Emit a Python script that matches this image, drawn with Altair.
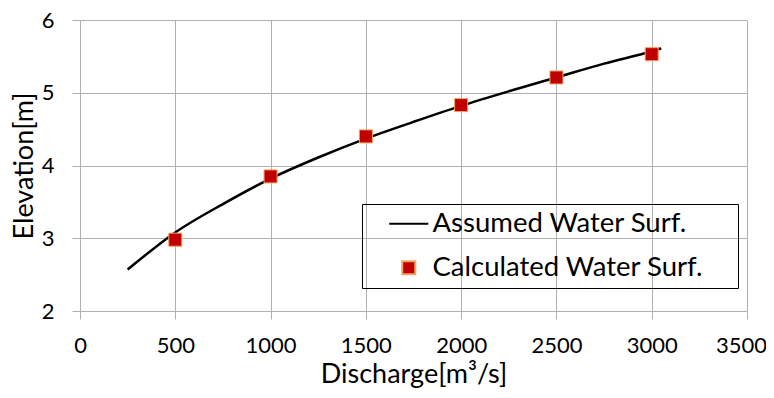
import altair as alt
import pandas as pd

# Assumed water surface (curve)
curve_q = [250, 500, 750, 1000, 1250, 1500, 1750, 2000, 2250, 2500, 2750, 3000, 3050]
curve_h = [2.57, 3.08, 3.47, 3.82, 4.11, 4.37, 4.60, 4.82, 5.02, 5.21, 5.40, 5.57, 5.61]

# Calculated water surface (points)
calc_q = [500, 1000, 1500, 2000, 2500, 3000]
calc_h = [2.98, 3.85, 4.40, 4.83, 5.21, 5.53]

names = ["Assumed Water Surf.", "Calculated Water Surf."]
x_ticks = [0, 500, 1000, 1500, 2000, 2500, 3000, 3500]
y_ticks = [2, 3, 4, 5, 6]

curve_df = pd.DataFrame({"q": curve_q, "h": curve_h, "series": names[0]})
calc_df = pd.DataFrame({"q": calc_q, "h": calc_h, "series": names[1]})

FONT = "Lato"
GRID = "#b0b0b0"

xenc = alt.X("q:Q", title="Discharge[m³/s]",
             scale=alt.Scale(domain=[0, 3500], nice=False),
             axis=alt.Axis(values=x_ticks, format="d", labelFlush=False,
                           labelOffset=alt.expr("datum.value == 3500 ? -6 : 0")))
yenc = alt.Y("h:Q", title="Elevation[m]",
             scale=alt.Scale(domain=[2, 6], nice=False, zero=False),
             axis=alt.Axis(values=y_ticks, format="d", labelFlush=False))

leg = alt.Legend(title=None, orient="none", legendX=282, legendY=184,
                 direction="vertical", strokeColor="black", padding=6,
                 symbolOffset=27, labelOffset=10, rowPadding=15, labelLimit=500,
                 symbolSize=170, symbolStrokeWidth=2,
                 labelFont=FONT, labelFontSize=27.5, labelColor="black",
                 labelExpr="datum.label + '\u00a0\u00a0\u00a0\u00a0\u200b'")

line = alt.Chart(curve_df).mark_line(color="black", strokeWidth=2.5,
                                     interpolate="monotone").encode(x=xenc, y=yenc)

pts = alt.Chart(calc_df).mark_point(filled=True, size=170, strokeWidth=1,
                                    opacity=1).encode(
    x=xenc, y=yenc,
    fill=alt.Fill("series:N", scale=alt.Scale(domain=names, range=["black", "#c00000"]), legend=leg),
    stroke=alt.Stroke("series:N", scale=alt.Scale(domain=names, range=["black", "#f4a460"]), legend=leg),
    shape=alt.Shape("series:N", scale=alt.Scale(domain=names, range=["M-3,0H3", "square"]), legend=leg),
)

chart = alt.layer(line, pts).properties(
    width=667, height=291,
    padding={"left": 72, "top": 12, "right": 19, "bottom": 78},
    autosize=alt.AutoSizeParams(type="none"),
).configure_view(stroke=None).configure_axis(
    gridColor=GRID, gridWidth=1, domainColor=GRID, tickColor=GRID, tickSize=8,
    labelFont=FONT, labelFontSize=22, labelColor="black",
    titleFont=FONT, titleFontSize=27, titleColor="black", titleFontWeight="normal",
).configure_axisX(labelPadding=16, titlePadding=5).configure_axisY(labelPadding=18, titlePadding=3)

chart.save("out.html", embed_options={"renderer": "svg", "actions": False})
